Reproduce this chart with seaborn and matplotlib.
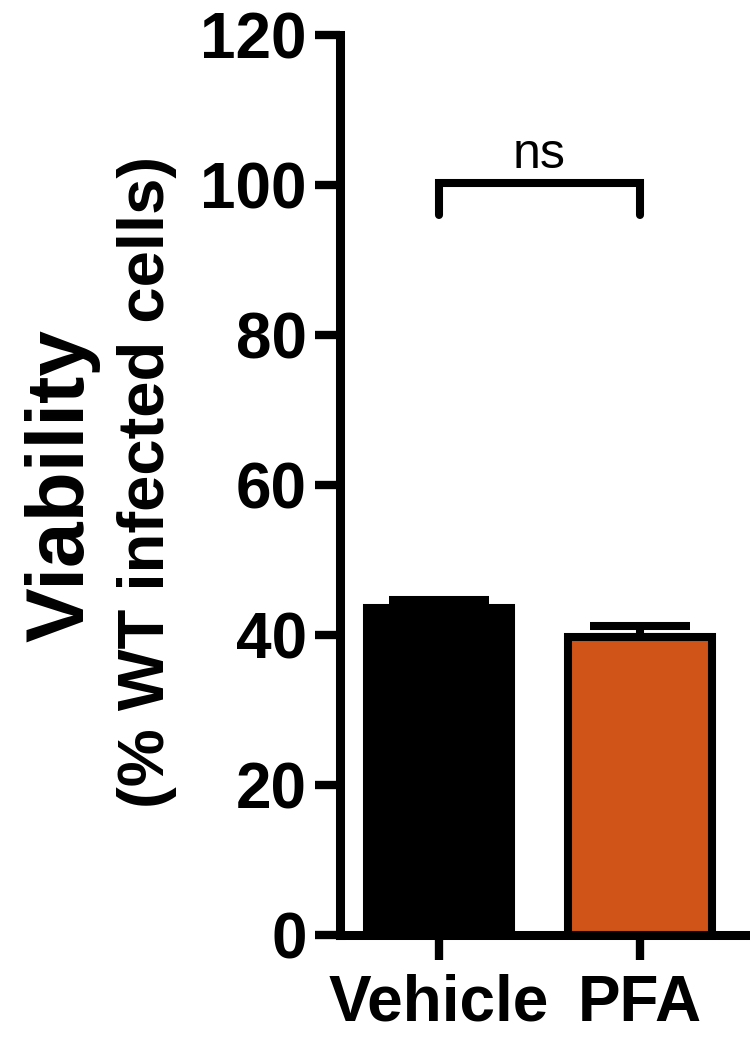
import matplotlib
matplotlib.use('Agg')
import matplotlib.pyplot as plt
import seaborn as sns
import pandas as pd

# data
groups = ['Vehicle', 'PFA']
viability = [43.6, 39.8]
sem = [1.1, 1.4]
bar_colors = ['#000000', '#D05417']
yticks = [0, 20, 40, 60, 80, 100, 120]
sig_label = 'ns'

sns.set_style('ticks')
plt.rcParams['font.family'] = ['Liberation Sans', 'DejaVu Sans']
plt.rcParams['font.weight'] = 'bold'
plt.rcParams['text.color'] = 'black'
plt.rcParams['axes.edgecolor'] = 'black'
plt.rcParams['xtick.color'] = 'black'
plt.rcParams['ytick.color'] = 'black'

df = pd.DataFrame({'group': groups, 'viability': viability})

fig = plt.figure(figsize=(7.5, 10.5), dpi=100)
ax = fig.add_axes([340 / 750, 1 - 935 / 1050, 410 / 750, 900 / 1050])

sns.barplot(data=df, x='group', y='viability', hue='group', palette=bar_colors,
            saturation=1, width=0.716, edgecolor='black', linewidth=5.8, legend=False,
            ax=ax, errorbar=None, zorder=2)

# upper error bars only (GraphPad style)
ax.errorbar(range(len(groups)), viability, yerr=[[0] * len(sem), sem], fmt='none',
            ecolor='black', elinewidth=5.8, capsize=36, capthick=5.8, zorder=3)

ax.set_ylim(0, 120)
ax.set_xlim(-0.493, 1.547)
ax.set_yticks(yticks)
ax.set_xlabel('')
ax.set_ylabel('')
sns.despine(ax=ax)
for side in ['left', 'bottom']:
    ax.spines[side].set_linewidth(6.5)
    ax.spines[side].set_color('black')
    ax.spines[side].set_zorder(4)
ax.tick_params(axis='both', width=6, length=18, color='black', labelcolor='black')
ax.tick_params(axis='y', labelsize=46, pad=6)
ax.tick_params(axis='x', labelsize=46, pad=10)
for lab in ax.get_xticklabels() + ax.get_yticklabels():
    lab.set_fontweight('bold')

# significance bracket
ax.plot([0, 0, 1, 1], [96, 100.3, 100.3, 96], color='black', lw=5.8,
        solid_joinstyle='miter', clip_on=False)
ax.text(0.5, 102.3, sig_label, ha='center', va='baseline', fontsize=36,
        fontweight='normal', color='black')

# two-line y label
fig.text(62 / 750, 1 - 486 / 1050, 'Viability', rotation=90, ha='center', va='center',
         fontsize=59, fontweight='bold', color='black')
fig.text(147 / 750, 1 - 482 / 1050, '(% WT infected cells)', rotation=90, ha='center',
         va='center', fontsize=47, fontweight='bold', color='black')

fig.savefig('out.png', dpi=100)
